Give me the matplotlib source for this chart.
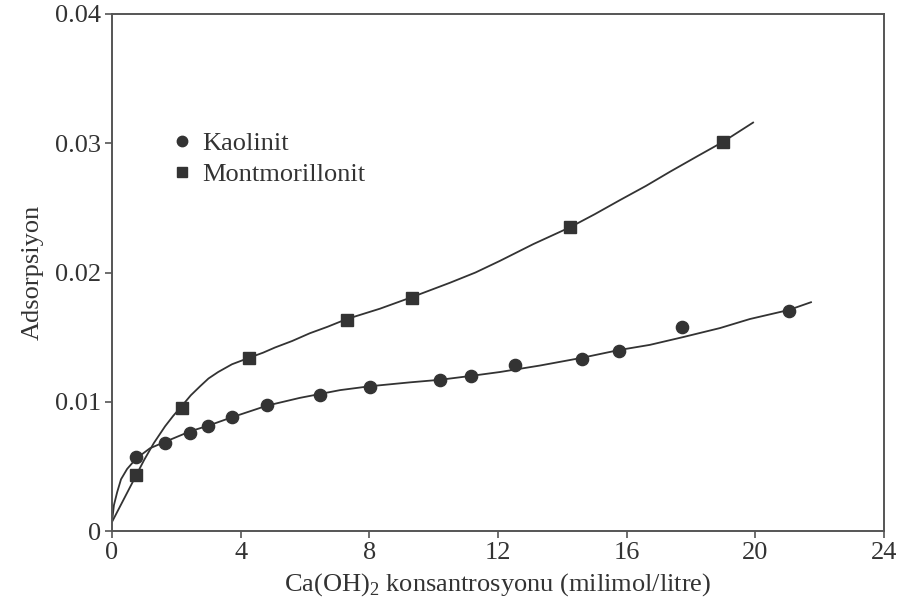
import matplotlib
matplotlib.use("Agg")
import matplotlib.pyplot as plt

# ---- data ----
kao_x = [0.74, 1.65, 2.42, 2.98, 3.72, 4.82, 6.47, 8.02, 10.2, 11.16, 12.53, 14.61, 15.76, 17.72, 21.04]
kao_y = [0.00574, 0.00682, 0.0076, 0.0081, 0.00884, 0.00977, 0.01054, 0.01116, 0.0117, 0.0120, 0.01287, 0.01333, 0.01395, 0.01581, 0.01705]

mont_x = [0.74, 2.18, 4.26, 7.3, 9.33, 14.24, 18.99]
mont_y = [0.00434, 0.00953, 0.01341, 0.01636, 0.01806, 0.02349, 0.03008]

# fitted curves
kao_fit_x = [0, 0.06, 0.16, 0.28, 0.47, 0.75, 1.18, 1.65, 2.42, 3.05, 3.73, 4.82, 5.84, 7.09, 8.02, 9.26,
             10.2, 11.16, 12.06, 13.3, 14.61, 15.76, 16.72, 17.75, 18.9, 19.83, 21.04, 21.73]
kao_fit_y = [0.0007, 0.0020, 0.0030, 0.0040, 0.0048, 0.0056, 0.0064, 0.0069, 0.0077, 0.0082, 0.0088, 0.0097,
             0.0103, 0.0109, 0.0112, 0.0115, 0.0117, 0.0120, 0.0123, 0.0128, 0.0134, 0.0140, 0.0144, 0.0150,
             0.0157, 0.0164, 0.0171, 0.0177]

mont_fit_x = [0, 0.25, 0.5, 0.75, 1.0, 1.3, 1.65, 1.9, 2.18, 2.45, 2.74, 3.0, 3.3, 3.73, 4.26, 4.7, 5.07,
              5.6, 6.15, 6.7, 7.3, 8.33, 9.33, 10.5, 11.3, 12.06, 13.1, 14.24, 15.0, 15.79, 16.6, 17.35,
              18.2, 18.99, 19.93]
mont_fit_y = [0.0007, 0.0019, 0.0031, 0.0043, 0.0055, 0.0068, 0.0081, 0.0089, 0.0097, 0.0105, 0.0112,
              0.0118, 0.0123, 0.0129, 0.0134, 0.0138, 0.0142, 0.0147, 0.0153, 0.0158, 0.0164, 0.0172,
              0.0181, 0.0192, 0.0200, 0.0209, 0.0222, 0.0235, 0.0245, 0.0256, 0.0267, 0.0278, 0.0290,
              0.0301, 0.0316]

x_ticks = [0, 4, 8, 12, 16, 20, 24]
y_ticks = [0, 0.01, 0.02, 0.03, 0.04]
y_tick_labels = ["0", "0.01", "0.02", "0.03", "0.04"]

labels = ["Kaolinit", "Montmorillonit"]

plt.rcParams['font.family'] = ['Liberation Serif', 'DejaVu Serif']
plt.rcParams['mathtext.fontset'] = 'custom'
plt.rcParams['mathtext.rm'] = 'Liberation Serif'

fig = plt.figure(figsize=(8.98, 6.0), dpi=100)
ax = fig.add_axes([112/898, 1 - 531/600, (884-112)/898, (531-14)/600])

dark = '#333333'
ax.plot(kao_fit_x, kao_fit_y, color=dark, lw=1.3, zorder=2)
ax.plot(mont_fit_x, mont_fit_y, color=dark, lw=1.3, zorder=2)
ax.plot(kao_x, kao_y, 'o', color=dark, ms=8.8, mec=dark, label=labels[0], zorder=3)
ax.plot(mont_x, mont_y, 's', color=dark, ms=8.0, mec=dark, label=labels[1], zorder=3)

ax.set_xlim(0, 24)
ax.set_ylim(0, 0.04)
ax.set_xticks(x_ticks)
ax.set_xticklabels([str(t) for t in x_ticks])
ax.set_yticks(y_ticks)
ax.set_yticklabels(y_tick_labels)

for s in ax.spines.values():
    s.set_color('#555555')
    s.set_linewidth(1.4)
ax.tick_params(direction='out', length=5, width=1.2, color='#555555',
               labelsize=19, labelcolor='#333333')
ax.tick_params(axis='x', pad=3)
ax.tick_params(axis='y', pad=3)

ax.set_xlabel(r"Ca(OH)$_\mathrm{2}$ konsantrosyonu (milimol/litre)", fontsize=19, color='#333333', labelpad=5)
ax.set_ylabel("Adsorpsiyon", fontsize=19, color='#333333', labelpad=8)

leg = ax.legend(frameon=False, loc='upper left', bbox_to_anchor=(0.067, 0.793),
                fontsize=19, markerscale=0.85, handlelength=0.6, handletextpad=0.45,
                labelspacing=0.3, borderaxespad=0)
for t in leg.get_texts():
    t.set_color('#333333')

fig.savefig("out.png", dpi=100)
